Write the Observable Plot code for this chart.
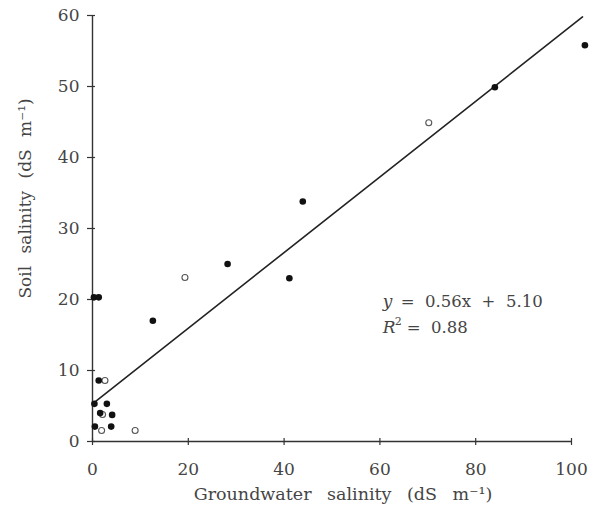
<!DOCTYPE html>
<html><head><meta charset="utf-8">
<script src="https://cdn.jsdelivr.net/npm/d3@7"></script>
<script src="https://cdn.jsdelivr.net/npm/@observablehq/plot@0.6"></script>
<style>body{margin:0;background:#fff}</style>
</head><body><div id="chart"></div>
<script>
// Filled circles
const filledX = [102.8, 84.0, 43.9, 28.2, 41.1, 12.6, 0.3, 1.3, 1.3, 0.4, 3.0, 1.6, 4.1, 0.5, 3.9];
const filledY = [55.8, 49.9, 33.8, 25.0, 23.0, 17.0, 20.3, 20.3, 8.6, 5.3, 5.3, 4.0, 3.75, 2.1, 2.1];
// Open circles
const openX = [70.2, 19.3, 2.6, 2.1, 1.9, 8.9];
const openY = [44.9, 23.1, 8.6, 3.8, 1.55, 1.55];
// Fitted line as drawn
const fitX = [0, 102.3];
const fitY = [5.3, 59.8];
// Ticks
const xTicks = [0, 20, 40, 60, 80, 100];
const yTicks = [0, 10, 20, 30, 40, 50, 60];
const xLabel = "Groundwater salinity (dS m⁻¹)";
const yLabel = "Soil salinity (dS m⁻¹)";
const eq1 = "=  0.56x  +  5.10";
const eq2 = "=  0.88";

const filled = filledX.map((x, i) => ({x, y: filledY[i]}));
const open = openX.map((x, i) => ({x, y: openY[i]}));
const fit = fitX.map((x, i) => ({x, y: fitY[i]}));

const ink = "#333";
const txt = "#454545";
const chart = Plot.plot({
  width: 606, height: 519,
  marginLeft: 92, marginRight: 35, marginTop: 15, marginBottom: 78,
  x: {domain: [0, 100], axis: null},
  y: {domain: [0, 60], axis: null},
  style: {fontFamily: "DejaVu Serif", fontSize: "17px", color: txt, background: "#fff", overflow: "visible"},
  marks: [
    Plot.ruleY([0], {stroke: ink, strokeWidth: 1.4}),
    Plot.ruleX([0], {stroke: ink, strokeWidth: 1.4}),
    Plot.axisX(xTicks, {tickSize: 7, dy: -3, tickFormat: () => "", label: null, stroke: ink, strokeWidth: 1.2}),
    Plot.axisX(xTicks, {tickSize: 0, tickPadding: 21, label: null, fill: txt, fontSize: 17}),
    Plot.axisY(yTicks, {tickSize: 8, dx: 3, tickFormat: () => "", label: null, stroke: ink, strokeWidth: 1.2}),
    Plot.axisY(yTicks, {tickSize: 0, tickPadding: 13, label: null, fill: txt, fontSize: 17}),
    Plot.line(fit, {x: "x", y: "y", stroke: "#222", strokeWidth: 1.6, clip: false}),
    Plot.dot(open, {x: "x", y: "y", r: 3, stroke: "#555", strokeWidth: 1.1, fill: "#fff"}),
    Plot.dot(filled, {x: "x", y: "y", r: 3.3, fill: "#111", stroke: "none"}),
    Plot.text([xLabel], {frameAnchor: "bottom", dy: 53, dx: 11, text: d => d, textAnchor: "middle", lineAnchor: "middle", fontSize: 17.5, fill: txt}),
    Plot.text([yLabel], {frameAnchor: "left", dx: -67, dy: -30, rotate: -90, text: d => d, textAnchor: "middle", lineAnchor: "middle", fontSize: 17, fill: txt}),
    Plot.text(["y"], {x: 60.6, y: 19.7, text: d => d, textAnchor: "start", fontStyle: "italic", fontSize: 17, fill: txt}),
    Plot.text([eq1], {x: 60.6, y: 19.7, dx: 18, text: d => d, textAnchor: "start", fontSize: 16.5, fill: txt}),
    Plot.text(["R"], {x: 60.6, y: 16.0, text: d => d, textAnchor: "start", fontStyle: "italic", fontSize: 17, fill: txt}),
    Plot.text(["2"], {x: 60.6, y: 16.0, dx: 12, dy: -6, text: d => d, textAnchor: "start", fontSize: 11, fill: txt}),
    Plot.text([eq2], {x: 60.6, y: 16.0, dx: 24, text: d => d, textAnchor: "start", fontSize: 16.5, fill: txt})
  ]
});
chart.querySelectorAll("text").forEach(t => t.style.whiteSpace = "pre");
// widen word spacing of the axis titles like the original typesetting
chart.querySelectorAll("text").forEach(t => {
  if (t.textContent === xLabel) t.style.wordSpacing = "10px";
  if (t.textContent === yLabel) t.style.wordSpacing = "7px";
});
document.getElementById("chart").append(chart);
</script>
</body></html>
